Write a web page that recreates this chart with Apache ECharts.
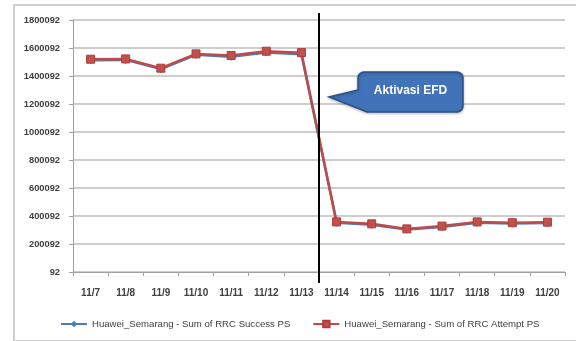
<!DOCTYPE html>
<html><head><meta charset="utf-8">
<script src="https://cdn.jsdelivr.net/npm/echarts@6/dist/echarts.min.js"></script>
<style>html,body{margin:0;padding:0;background:#fff}#c{width:576px;height:341px}</style>
</head><body><div id="c"></div>
<script>
var categories = ['11/7','11/8','11/9','11/10','11/11','11/12','11/13','11/14','11/15','11/16','11/17','11/18','11/19','11/20'];
var rrcSuccess = [1512000,1515000,1450000,1552000,1538000,1568000,1555000,352000,338000,303000,322000,352000,346000,350000];
var rrcAttempt = [1520000,1522000,1456000,1558000,1546000,1577000,1567000,358000,344000,308000,328000,358000,352000,356000];
var yTicks = [92,200092,400092,600092,800092,1000092,1200092,1400092,1600092,1800092];
var seriesNames = ['Huawei_Semarang - Sum of RRC Success PS','Huawei_Semarang - Sum of RRC Attempt PS'];
var eventIndex = 6; // event between 11/13 and 11/14
var eventLabel = 'Aktivasi EFD';

var chart = echarts.init(document.getElementById('c'), null, {renderer:'canvas'});
var font = 'Liberation Sans';
chart.setOption({
  animation:false,
  grid:{left:73, right:11, top:20, bottom:69},
  legend:{
    top:314, left:55, itemGap:22, itemWidth:26, itemHeight:8,
    textStyle:{fontFamily:font, fontSize:9.6, color:'#404040'},
    data:seriesNames
  },
  xAxis:{
    type:'category', data:categories, boundaryGap:true,
    axisLine:{lineStyle:{color:'#a0a0a0', width:1}},
    axisTick:{show:true, length:4, lineStyle:{color:'#a0a0a0'}},
    axisLabel:{fontFamily:font, fontSize:10, fontWeight:'bold', color:'#404040', margin:16, interval:0}
  },
  yAxis:{
    type:'value', min:yTicks[0], max:yTicks[yTicks.length-1], interval:200000,
    axisLine:{show:true, lineStyle:{color:'#a0a0a0'}},
    axisTick:{show:true, length:4, lineStyle:{color:'#a0a0a0'}},
    splitLine:{lineStyle:{color:'#bdbdbd', width:1.5}},
    axisLabel:{fontFamily:font, fontSize:9.3, fontWeight:'bold', color:'#404040', margin:13,
      formatter:function(v){return String(Math.round(v));}}
  },
  series:[
    {name:seriesNames[0], type:'line', data:rrcSuccess, symbol:'diamond', symbolSize:8,
     itemStyle:{color:'#4a7ebb'}, lineStyle:{width:2.5, color:'#4a7ebb'}},
    {name:seriesNames[1], type:'line', data:rrcAttempt, symbol:'rect', symbolSize:8,
     itemStyle:{color:'#c0504d', borderColor:'#b13c39', borderWidth:1}, lineStyle:{width:2.5, color:'#be4b48'}}
  ]
});

var x0 = chart.convertToPixel({xAxisIndex:0}, eventIndex);
var x1 = chart.convertToPixel({xAxisIndex:0}, eventIndex+1);
var lx = Math.round((x0+x1)/2);
var tipX = lx+10, tipY = 97;
var bx = lx+39, by = 72, bw = 105, bh = 40, r = 6;
function arc(cx, cy, a0, a1, pts){
  for (var i=0;i<=6;i++){var a=a0+(a1-a0)*i/6; pts.push([cx+r*Math.cos(a), cy+r*Math.sin(a)]);}
}
var pts = [];
arc(bx+r, by+r, Math.PI, 1.5*Math.PI, pts);
arc(bx+bw-r, by+r, 1.5*Math.PI, 2*Math.PI, pts);
arc(bx+bw-r, by+bh-r, 0, 0.5*Math.PI, pts);
pts.push([bx+9, by+bh]);
pts.push([tipX, tipY]);
pts.push([bx, by+18]);
chart.setOption({
  graphic:[
    {type:'rect', shape:{x:14, y:5, width:566, height:336}, style:{fill:'none', stroke:'#d0d0d0', lineWidth:2}, silent:true, z:0},
    {type:'line', shape:{x1:lx, y1:13, x2:lx, y2:283}, style:{stroke:'#000', lineWidth:2}, z:100},
    {type:'polygon', shape:{points:pts}, style:{fill:'#4273b8', stroke:'#2d5089', lineWidth:1.5, shadowBlur:3, shadowColor:'rgba(0,0,0,0.25)', shadowOffsetY:1}, z:101},
    {type:'text', x:bx+bw/2, y:by+bh/2-1, style:{text:eventLabel, fill:'#fff', font:'bold 12px '+font, textAlign:'center', textVerticalAlign:'middle'}, z:102}
  ]
});
</script></body></html>
